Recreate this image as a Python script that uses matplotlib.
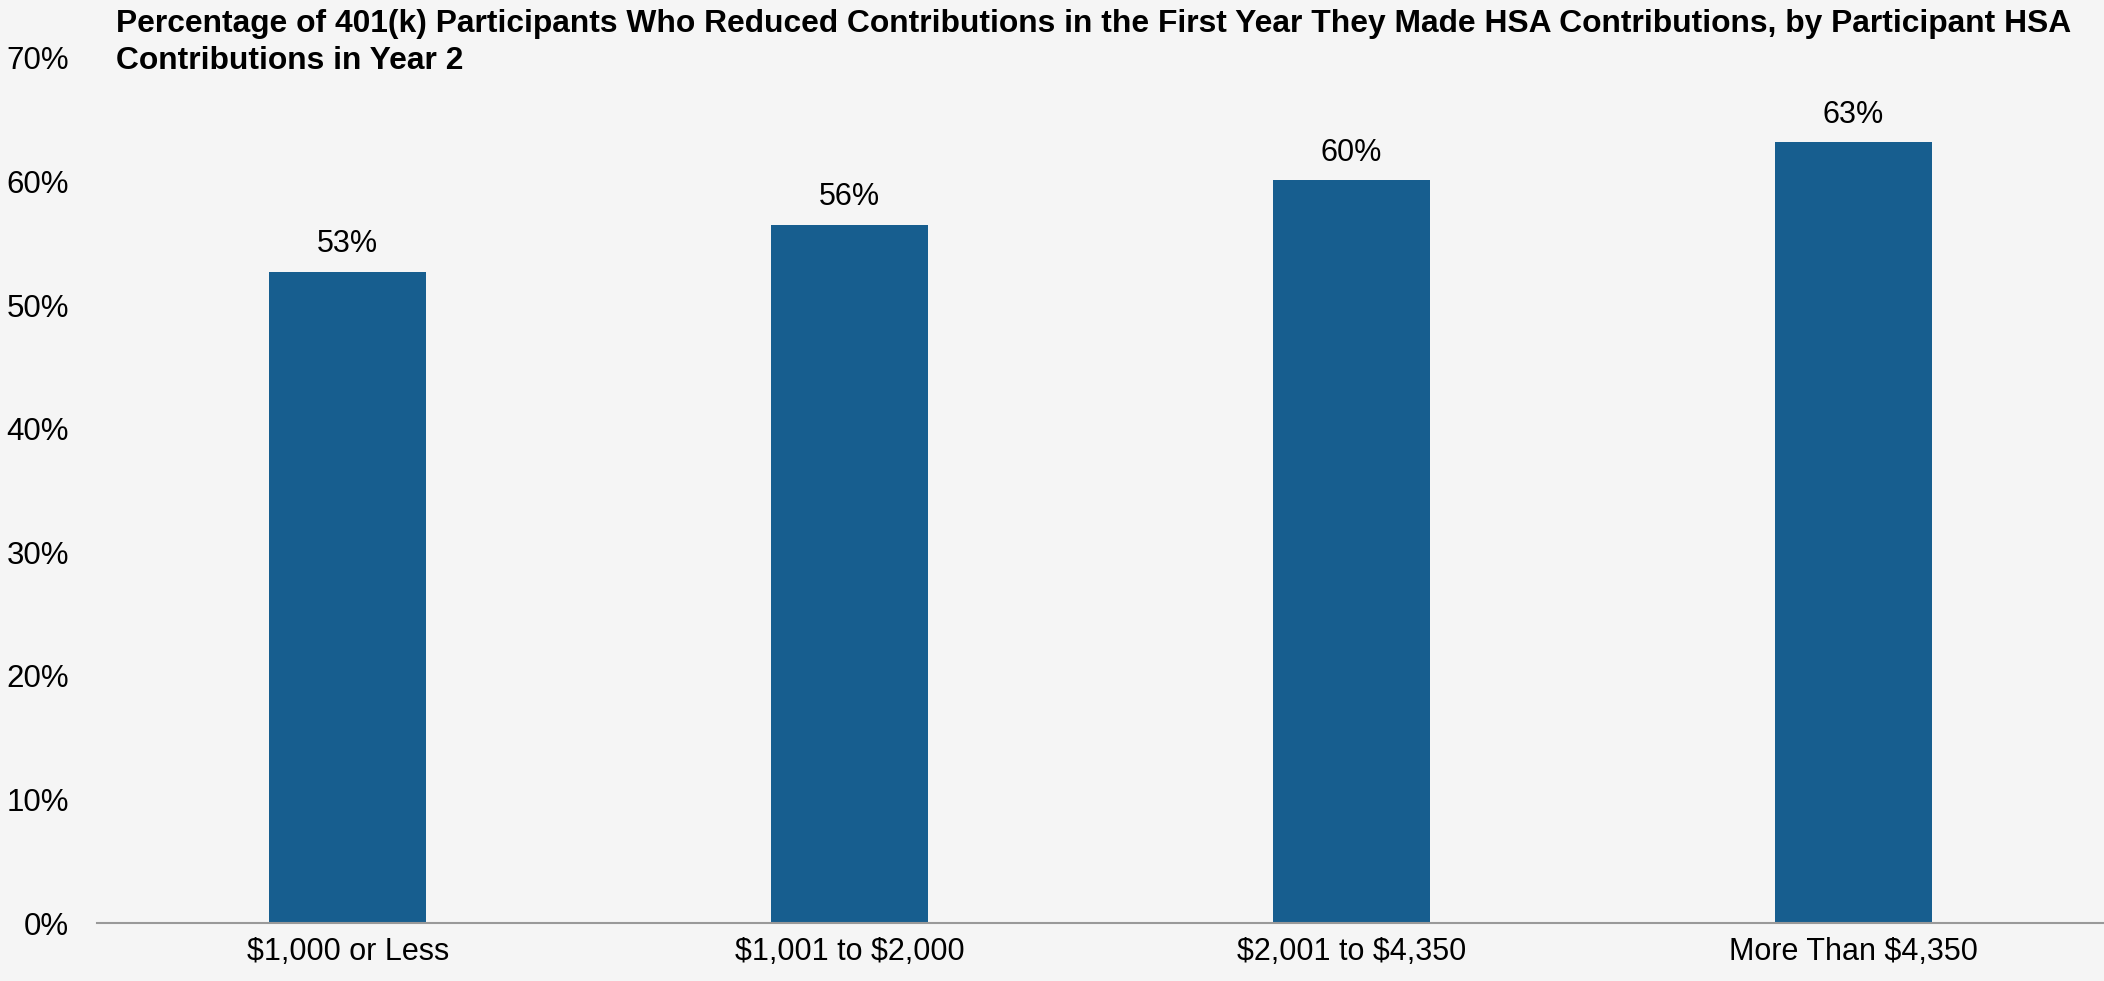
import matplotlib.pyplot as plt
import numpy as np

plt.rcParams['text.parse_math'] = False
plt.rcParams['font.family'] = ['Liberation Sans', 'DejaVu Sans']

categories = ['$1,000 or Less', '$1,001 to $2,000', '$2,001 to $4,350', 'More Than $4,350']
values = [52.7, 56.5, 60.1, 63.2]
labels = ['53%', '56%', '60%', '63%']
yticks = [0, 10, 20, 30, 40, 50, 60, 70]

bg = '#f5f5f5'
bar_color = '#175e8f'

fig = plt.figure(figsize=(21.04, 9.81), dpi=100, facecolor=bg)
ax = fig.add_axes([0.0461, 0.0591, 0.9539, 0.8818], facecolor=bg)

x = np.arange(len(categories))
ax.bar(x, values, width=0.313, color=bar_color, zorder=2)

for xi, v, lab in zip(x, values, labels):
    ax.annotate(lab, (xi, v), xytext=(0, 9), textcoords='offset points',
                ha='center', va='bottom', fontsize=22)

ax.set_xlim(-0.5, 3.5)
ax.set_ylim(0, 70)
ax.set_yticks(yticks)
ax.set_yticklabels([f'{t}%' for t in yticks], fontsize=22.5)
ax.set_xticks(x)
ax.set_xticklabels(categories, fontsize=22)

ax.tick_params(axis='both', length=0)
ax.tick_params(axis='y', pad=20)
ax.tick_params(axis='x', pad=10)
for s in ['top', 'right', 'left']:
    ax.spines[s].set_visible(False)
ax.spines['bottom'].set_color('#999999')
ax.spines['bottom'].set_linewidth(1.5)

fig.text(0.0552, 0.991, 'Percentage of 401(k) Participants Who Reduced Contributions in the First Year They Made HSA Contributions, by Participant HSA\nContributions in Year 2',
         ha='left', va='top', fontsize=22.9, fontweight='bold', linespacing=1.33)

fig.savefig('out.png', dpi=100, facecolor=bg)
